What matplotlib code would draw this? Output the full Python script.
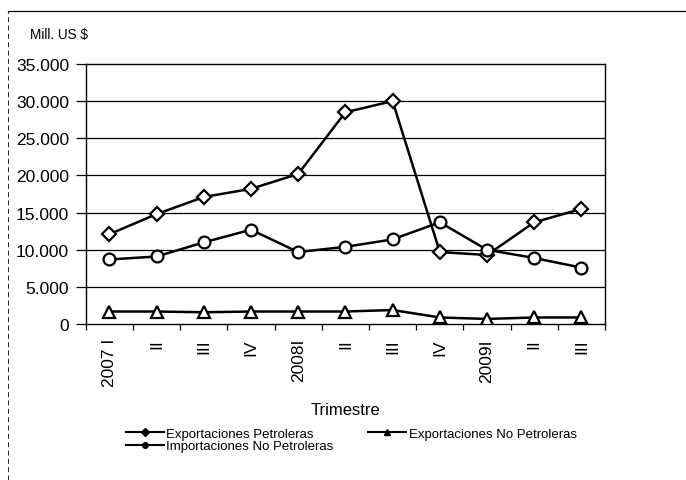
import matplotlib
matplotlib.use("Agg")
import matplotlib.pyplot as plt
from matplotlib.ticker import FuncFormatter, FixedLocator
from matplotlib.lines import Line2D

plt.rcParams['font.family'] = ['Liberation Sans', 'DejaVu Sans']

quarters = ["2007 I", "II", "III", "IV", "2008I", "II", "III", "IV", "2009I", "II", "III"]
export_petro = [12100, 14800, 17100, 18200, 20200, 28500, 30000, 9700, 9300, 13700, 15500]
export_no_petro = [1700, 1700, 1600, 1700, 1700, 1700, 1900, 900, 700, 900, 900]
import_no_petro = [8700, 9100, 11000, 12700, 9700, 10400, 11400, 13700, 10000, 8900, 7600]
y_ticks = [0, 5000, 10000, 15000, 20000, 25000, 30000, 35000]

fig = plt.figure(figsize=(6.86, 4.81), dpi=100)
ax = fig.add_axes([0.125, 0.324, 0.757, 0.541])

x = list(range(len(quarters)))
for yv in y_ticks[1:-1]:
    ax.axhline(yv, color='black', lw=0.9, zorder=1)

ax.plot(x, export_petro, color='black', lw=1.8, marker='D', ms=7,
        mfc='white', mec='black', mew=1.6, zorder=3)
ax.plot(x, export_no_petro, color='black', lw=1.8, marker='^', ms=8,
        mfc='white', mec='black', mew=1.6, zorder=3)
ax.plot(x, import_no_petro, color='black', lw=1.8, marker='o', ms=8.5,
        mfc='white', mec='black', mew=1.6, zorder=3)

ax.set_xlim(-0.5, len(quarters) - 0.5)
ax.set_ylim(0, 35000)
ax.set_yticks(y_ticks)
ax.yaxis.set_major_formatter(FuncFormatter(lambda v, p: f"{int(v):,}".replace(",", ".")))
ax.tick_params(axis='y', labelsize=12.5, length=7, width=0.9, direction='out', pad=5)

ax.set_xticks(x)
ax.set_xticklabels(quarters, rotation=90, fontsize=12.5)
ax.tick_params(axis='x', which='major', length=0, pad=10)
ax.xaxis.set_minor_locator(FixedLocator([i + 0.5 for i in range(-1, len(quarters))]))
ax.tick_params(axis='x', which='minor', length=4, width=0.9, direction='out')

for s in ax.spines.values():
    s.set_linewidth(1.0)
    s.set_color('black')

ax.set_xlabel("Trimestre", fontsize=12, labelpad=11)
fig.text(0.044, 0.927, "Mill. US $", fontsize=9.8, ha='left', va='center')

handles = [
    Line2D([], [], color='black', lw=1.5, marker='D', ms=4, mfc='black', mec='black'),
    Line2D([], [], color='black', lw=1.5, marker='o', ms=4, mfc='black', mec='black'),
    Line2D([], [], color='black', lw=1.5, marker='^', ms=5, mfc='black', mec='black'),
]
labels = ["Exportaciones Petroleras", "Importaciones No Petroleras", "Exportaciones No Petroleras"]
fig.legend(handles, labels, loc='center', bbox_to_anchor=(0.512, 0.083), ncol=2,
           frameon=False, fontsize=9.5, handlelength=2.9, handletextpad=0.2,
           columnspacing=2.6, labelspacing=0.0, borderpad=0)

# page frame fragments
fig.add_artist(Line2D([0.012, 1.0], [0.975, 0.975], color='black', lw=0.9,
                      transform=fig.transFigure))
fig.add_artist(Line2D([0.012, 0.012], [0.0, 0.975], color='black', lw=0.6,
                      ls=(0, (6, 4)), transform=fig.transFigure))

fig.savefig("out.png", dpi=100, facecolor='white')
